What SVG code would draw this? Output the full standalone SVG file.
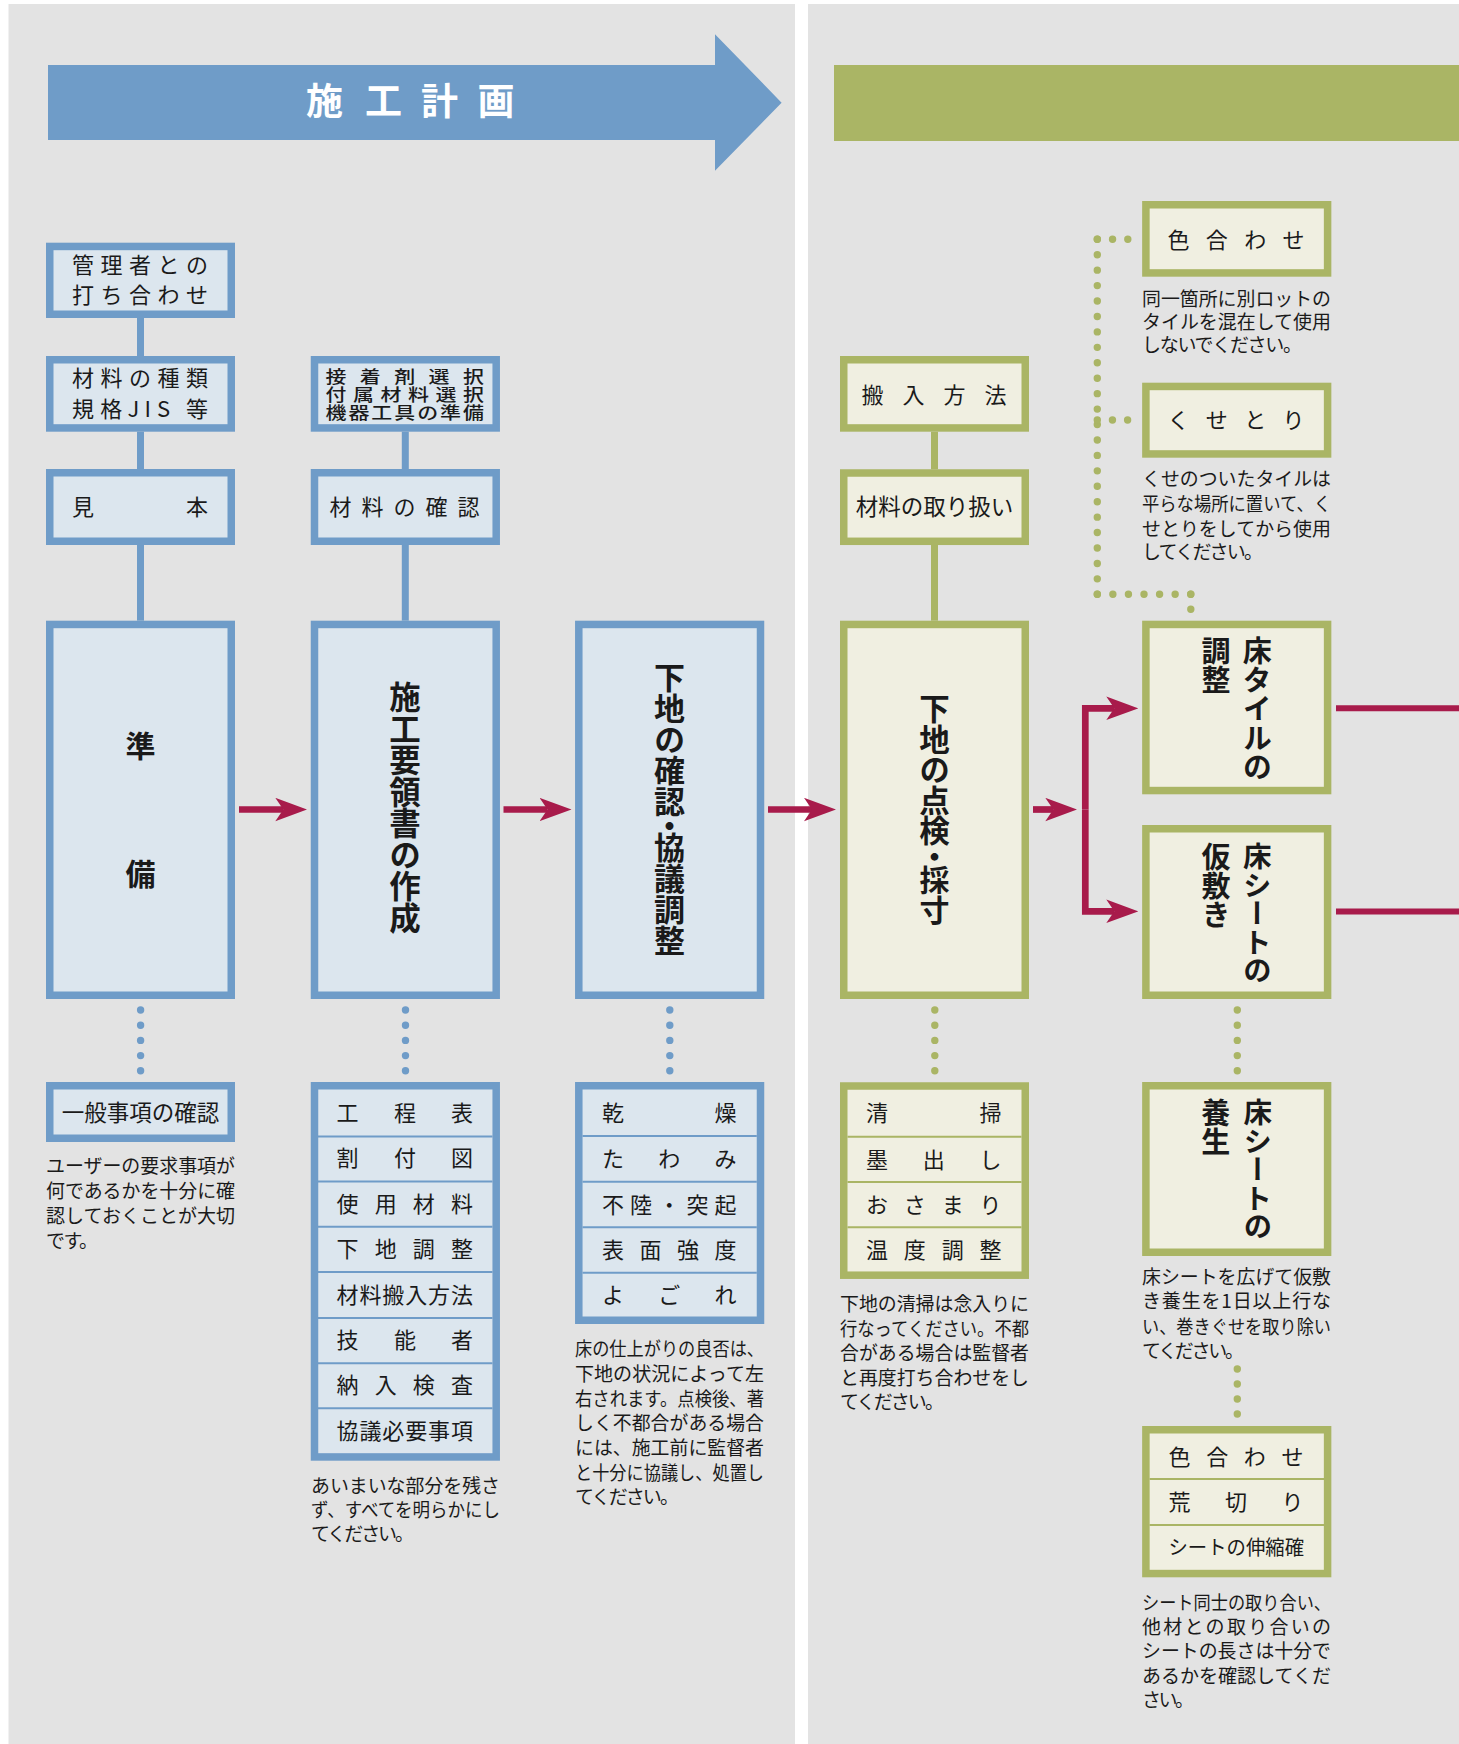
<svg xmlns="http://www.w3.org/2000/svg" width="1459" height="1744" viewBox="0 0 1459 1744">
<defs>
<style>
text{font-family:"Noto Sans CJK JP","Noto Sans CJK SC",sans-serif;fill:#1a1a1a}
.lb{font-size:22px}
.cap{font-size:19px}
.sm{font-size:16.5px;font-weight:500}
.big{font-weight:bold}
.vt{writing-mode:vertical-rl}
.bb{fill:#dce6ee;stroke:#6f9cc8;stroke-width:7.5}
.gb{fill:#f0efe1;stroke:#aab565;stroke-width:7.5}
.bsep{stroke:#6f9cc8;stroke-width:2}
.gsep{stroke:#aab565;stroke-width:2}
.bcon{stroke:#6f9cc8;stroke-width:7;fill:none}
.gcon{stroke:#aab565;stroke-width:7;fill:none}
.bdot{stroke:#6f9cc8;stroke-width:7.4;stroke-linecap:round;fill:none}
.gdot{stroke:#aab565;stroke-width:7.4;stroke-linecap:round;fill:none}
.arr{stroke:#a81b4b;stroke-width:6.7;fill:none}
</style>
<marker id="ah" viewBox="0 -12 32 24" refX="8" refY="0" markerWidth="32" markerHeight="24" markerUnits="userSpaceOnUse" orient="auto">
<path d="M0,-11.7 L32,0 L0,11.7 L8,0 Z" fill="#a81b4b"/>
</marker>
</defs>
<rect x="0" y="0" width="1459" height="1744" fill="#ffffff"/>
<rect x="8.5" y="4" width="786.5" height="1740" fill="#e3e3e3"/>
<rect x="808" y="4" width="651" height="1740" fill="#e3e3e3"/>

<g id="header-plan">
<polygon points="48,65 715,65 715,34.3 781.6,102.7 715,170.8 715,140 48,140" fill="#6f9cc8"/>
<text x="306 365 421 477.5" y="114.6" style="font-size:37px;font-weight:bold;fill:#ffffff">施工計画</text>
</g>
<g id="header-work">
<rect x="834" y="65" width="625" height="76" fill="#aab565"/>
</g>

<g id="connectors">
<line class="bcon" x1="140.5" y1="318" x2="140.5" y2="356"/>
<line class="bcon" x1="140.5" y1="431.7" x2="140.5" y2="469"/>
<line class="bcon" x1="140.5" y1="545" x2="140.5" y2="620.7"/>
<line class="bcon" x1="405.3" y1="431.7" x2="405.3" y2="469"/>
<line class="bcon" x1="405.3" y1="545" x2="405.3" y2="620.7"/>
<line class="gcon" x1="934.5" y1="431.7" x2="934.5" y2="469.3"/>
<line class="gcon" x1="934.5" y1="545" x2="934.5" y2="620.7"/>
<path class="bdot" d="M140.6,1010 V1071.2" stroke-dasharray="0 15.2"/>
<path class="bdot" d="M405.5,1010 V1071.2" stroke-dasharray="0 15.2"/>
<path class="bdot" d="M669.8,1010 V1071.2" stroke-dasharray="0 15.2"/>
<path class="gdot" d="M934.8,1010 V1071.2" stroke-dasharray="0 15.2"/>
<path class="gdot" d="M1237.3,1010 V1071.2" stroke-dasharray="0 15.2"/>
<path class="gdot" d="M1237.3,1369 V1414.4" stroke-dasharray="0 15"/>
<path class="gdot" d="M1127.8,239.3 H1096.9" stroke-dasharray="0 15.25"/>
<path class="gdot" d="M1097.3,239.3 V594.8" stroke-dasharray="0 15.435"/>
<path class="gdot" d="M1127.6,420 H1096.9" stroke-dasharray="0 15.15"/>
<path class="gdot" d="M1097.3,594.3 H1191.1" stroke-dasharray="0 15.57"/>
<path class="gdot" d="M1190.8,594.3 V609.7" stroke-dasharray="0 15"/>
<line class="arr" x1="239" y1="809.5" x2="283.3" y2="809.5" marker-end="url(#ah)"/>
<line class="arr" x1="503.5" y1="809.5" x2="547.5" y2="809.5" marker-end="url(#ah)"/>
<line class="arr" x1="768" y1="809.5" x2="812" y2="809.5" marker-end="url(#ah)"/>
<line class="arr" x1="1033" y1="809.5" x2="1053.3" y2="809.5" marker-end="url(#ah)"/>
<path class="arr" d="M1085.3,809.5 V708.3 H1114.3" stroke-linejoin="miter" marker-end="url(#ah)"/>
<path class="arr" d="M1085.3,809.5 V911.3 H1114.3" stroke-linejoin="miter" marker-end="url(#ah)"/>
<line class="arr" x1="1336" y1="708.3" x2="1459" y2="708.3" style="stroke-width:6"/>
<line class="arr" x1="1336" y1="911.5" x2="1459" y2="911.5" style="stroke-width:6"/>
</g>

<g id="n-kanri">
<rect class="bb" x="49.75" y="246.45" width="181.5" height="67.8"/>
<text class="lb" x="72 100.5 129 157.5 186" y="273.4">管理者との</text>
<text class="lb" x="72 100.5 129 157.5 186" y="303.1">打ち合わせ</text>
</g>
<g id="n-shurui">
<rect class="bb" x="49.75" y="359.75" width="181.5" height="68.2"/>
<text class="lb" x="72 100.5 129 157.5 186" y="386.4">材料の種類</text>
<text class="lb" x="72 100.3 127.5 144.5 157 186" y="417.4">規格JIS等</text>
</g>
<g id="n-mihon">
<rect class="bb" x="49.75" y="472.75" width="181.5" height="68.5"/>
<text class="lb" x="72 186" y="515.4">見本</text>
</g>
<g id="n-junbi">
<rect class="bb" x="49.75" y="624.45" width="181.5" height="370.8"/>
<text class="big" x="140.5" y="757.4" text-anchor="middle" style="font-size:30px">準</text>
<text class="big" x="140.5" y="885.4" text-anchor="middle" style="font-size:30px">備</text>
</g>
<g id="n-ippan">
<rect class="bb" x="49.75" y="1085.75" width="181.5" height="52.5"/>
<text x="140.5" y="1121.1" text-anchor="middle" style="font-size:22.5px">一般事項の確認</text>
</g>
<g id="c-ippan">
<text class="cap" x="46" y="1173.2" textLength="189" lengthAdjust="spacingAndGlyphs">ユーザーの要求事項が</text>
<text class="cap" x="46" y="1198.2" textLength="189" lengthAdjust="spacingAndGlyphs">何であるかを十分に確</text>
<text class="cap" x="46" y="1223.2" textLength="189" lengthAdjust="spacingAndGlyphs">認しておくことが大切</text>
<text class="cap" x="46" y="1248.2" textLength="52" lengthAdjust="spacing">です。</text>
</g>

<g id="n-secchaku">
<rect class="bb" x="314.5" y="359.75" width="181.7" height="68.2"/>
<g transform="matrix(1.27,0,0,1,-109.4,0)">
<text class="sm" x="342.4 369.5 396.6 423.6 450.7" y="383">接着剤選択</text>
<text class="sm" x="342.4 364.1 385.7 407.4 429 450.7" y="401.2">付属材料選択</text>
<text class="sm" x="342.4 360.5 378.5 396.6 414.6 432.7 450.7" y="419.3">機器工具の準備</text>
</g>
</g>
<g id="n-kakunin">
<rect class="bb" x="314.5" y="472.75" width="181.7" height="68.5"/>
<text class="lb" x="329.5 361.5 393.5 425.5 457.5" y="515.4">材料の確認</text>
</g>
<g id="n-sekou">
<rect class="bb" x="314.5" y="624.45" width="181.7" height="370.8"/>
<text class="big vt" x="405" y="681.5" style="font-size:31.5px">施工要領書の作成</text>
</g>
<g id="n-table2">
<rect class="bb" x="314.5" y="1085.75" width="181.7" height="371.2"/>
<line class="bsep" x1="318" y1="1136.4" x2="492.5" y2="1136.4"/>
<line class="bsep" x1="318" y1="1181.4" x2="492.5" y2="1181.4"/>
<line class="bsep" x1="318" y1="1226.8" x2="492.5" y2="1226.8"/>
<line class="bsep" x1="318" y1="1272" x2="492.5" y2="1272"/>
<line class="bsep" x1="318" y1="1317.9" x2="492.5" y2="1317.9"/>
<line class="bsep" x1="318" y1="1363.2" x2="492.5" y2="1363.2"/>
<line class="bsep" x1="318" y1="1408.2" x2="492.5" y2="1408.2"/>
<text class="lb" x="336.5 394 451" y="1121.1">工程表</text>
<text class="lb" x="336.5 394 451" y="1166.4">割付図</text>
<text class="lb" x="336.5 374.7 412.8 451" y="1212.2">使用材料</text>
<text class="lb" x="336.5 374.7 412.8 451" y="1257.1">下地調整</text>
<text class="lb" x="336.5 359.4 382.3 405.2 428.1 451" y="1302.7">材料搬入方法</text>
<text class="lb" x="336.5 394 451" y="1348.2">技能者</text>
<text class="lb" x="336.5 374.7 412.8 451" y="1393.2">納入検査</text>
<text class="lb" x="336.5 359.4 382.3 405.2 428.1 451" y="1438.7">協議必要事項</text>
</g>
<g id="c-table2">
<text class="cap" x="311" y="1492.9" textLength="189" lengthAdjust="spacingAndGlyphs">あいまいな部分を残さ</text>
<text class="cap" x="311" y="1516.7" textLength="189" lengthAdjust="spacingAndGlyphs">ず、すべてを明らかにし</text>
<text class="cap" x="311" y="1541.2" textLength="103" lengthAdjust="spacing">てください。</text>
</g>

<g id="n-shitaji">
<rect class="bb" x="578.8" y="624.45" width="181.7" height="370.8"/>
<text class="big vt" x="669.5" y="662" style="font-size:31px">下地の確認</text>
<text class="big vt" x="669.5" y="809.5" style="font-size:31px">・</text>
<text class="big vt" x="669.5" y="832" style="font-size:31px">協議調整</text>
</g>
<g id="n-table3">
<rect class="bb" x="578.8" y="1085.75" width="181.7" height="234.5"/>
<line class="bsep" x1="582.5" y1="1136" x2="756.8" y2="1136"/>
<line class="bsep" x1="582.5" y1="1181.7" x2="756.8" y2="1181.7"/>
<line class="bsep" x1="582.5" y1="1227.3" x2="756.8" y2="1227.3"/>
<line class="bsep" x1="582.5" y1="1272.7" x2="756.8" y2="1272.7"/>
<text class="lb" x="602 714.5" y="1121.1">乾燥</text>
<text class="lb" x="602 658.3 714.5" y="1167.3">たわみ</text>
<text class="lb" x="602 630.1 658.3 686.4 714.5" y="1212.9">不陸・突起</text>
<text class="lb" x="602 639.5 677 714.5" y="1258.4">表面強度</text>
<text class="lb" x="602 658.3 714.5" y="1303.1">よごれ</text>
</g>
<g id="c-table3">
<text class="cap" x="575" y="1355.5" textLength="189" lengthAdjust="spacingAndGlyphs">床の仕上がりの良否は、</text>
<text class="cap" x="575" y="1380.5" textLength="189" lengthAdjust="spacingAndGlyphs">下地の状況によって左</text>
<text class="cap" x="575" y="1405.5" textLength="189" lengthAdjust="spacingAndGlyphs">右されます。点検後、著</text>
<text class="cap" x="575" y="1429.9" textLength="189" lengthAdjust="spacingAndGlyphs">しく不都合がある場合</text>
<text class="cap" x="575" y="1454.5" textLength="189" lengthAdjust="spacingAndGlyphs">には、施工前に監督者</text>
<text class="cap" x="575" y="1479.9" textLength="189" lengthAdjust="spacingAndGlyphs">と十分に協議し、処置し</text>
<text class="cap" x="575" y="1503.9" textLength="104" lengthAdjust="spacing">てください。</text>
</g>

<g id="n-hannyu">
<rect class="gb" x="843.75" y="359.75" width="181.5" height="68.2"/>
<text class="lb" x="861.5 902.5 943.5 984.5" y="403.4">搬入方法</text>
</g>
<g id="n-toriatsukai">
<rect class="gb" x="843.75" y="473" width="181.5" height="68.3"/>
<text x="934.5" y="515.3" text-anchor="middle" style="font-size:22.5px">材料の取り扱い</text>
</g>
<g id="n-tenken">
<rect class="gb" x="843.75" y="624.45" width="181.5" height="370.8"/>
<text class="big vt" x="934.5" y="693.5" style="font-size:30.5px">下地の点検</text>
<text class="big vt" x="934.5" y="841.5" style="font-size:30px">・</text>
<text class="big vt" x="934.5" y="865" style="font-size:30px">採寸</text>
</g>
<g id="n-table4">
<rect class="gb" x="843.75" y="1086" width="181.5" height="189.2"/>
<line class="gsep" x1="847.5" y1="1136.7" x2="1021.5" y2="1136.7"/>
<line class="gsep" x1="847.5" y1="1182" x2="1021.5" y2="1182"/>
<line class="gsep" x1="847.5" y1="1227.3" x2="1021.5" y2="1227.3"/>
<text class="lb" x="866 979.5" y="1121.4">清掃</text>
<text class="lb" x="866 922.8 979.5" y="1167.7">墨出し</text>
<text class="lb" x="866 903.8 941.7 979.5" y="1213.1">おさまり</text>
<text class="lb" x="866 903.8 941.7 979.5" y="1257.9">温度調整</text>
</g>
<g id="c-table4">
<text class="cap" x="840" y="1310.5" textLength="189" lengthAdjust="spacingAndGlyphs">下地の清掃は念入りに</text>
<text class="cap" x="840" y="1335.5" textLength="189" lengthAdjust="spacingAndGlyphs">行なってください。不都</text>
<text class="cap" x="840" y="1359.9" textLength="189" lengthAdjust="spacingAndGlyphs">合がある場合は監督者</text>
<text class="cap" x="840" y="1384.9" textLength="189" lengthAdjust="spacingAndGlyphs">と再度打ち合わせをし</text>
<text class="cap" x="840" y="1408.9" textLength="104" lengthAdjust="spacing">てください。</text>
</g>

<g id="n-iroawase">
<rect class="gb" x="1145.9" y="204.75" width="181.7" height="68.2"/>
<text class="lb" x="1167.5 1205.8 1244.2 1282.5" y="247.7">色合わせ</text>
</g>
<g id="c-iroawase">
<text class="cap" x="1142" y="305.5" textLength="189" lengthAdjust="spacingAndGlyphs">同一箇所に別ロットの</text>
<text class="cap" x="1142" y="328.9" textLength="189" lengthAdjust="spacingAndGlyphs">タイルを混在して使用</text>
<text class="cap" x="1142" y="352.2" textLength="160" lengthAdjust="spacing">しないでください。</text>
</g>
<g id="n-kusetori">
<rect class="gb" x="1145.9" y="386.45" width="181.7" height="67.5"/>
<text class="lb" x="1167.5 1205.8 1244.2 1282.5" y="428.4">くせとり</text>
</g>
<g id="c-kusetori">
<text class="cap" x="1142" y="485.5" textLength="189" lengthAdjust="spacingAndGlyphs">くせのついたタイルは</text>
<text class="cap" x="1142" y="510.5" textLength="189" lengthAdjust="spacingAndGlyphs">平らな場所に置いて、く</text>
<text class="cap" x="1142" y="535.5" textLength="189" lengthAdjust="spacingAndGlyphs">せとりをしてから使用</text>
<text class="cap" x="1142" y="558.9" textLength="121" lengthAdjust="spacing">してください。</text>
</g>
<g id="n-tile">
<rect class="gb" x="1145.9" y="624.45" width="181.7" height="166.1"/>
<text class="big vt" x="1257.3" y="636.5" style="font-size:29px">床タイルの</text>
<text class="big vt" x="1216" y="636.5" style="font-size:29px">調整</text>
</g>
<g id="n-karijiki">
<rect class="gb" x="1145.9" y="828.75" width="181.7" height="166.5"/>
<text class="big vt" x="1257.3" y="842" style="font-size:28.5px">床シートの</text>
<text class="big vt" x="1216" y="842" style="font-size:29px">仮敷き</text>
</g>
<g id="n-yojo">
<rect class="gb" x="1145.9" y="1085.75" width="181.7" height="166.5"/>
<text class="big vt" x="1257.7" y="1098" style="font-size:28.5px">床シートの</text>
<text class="big vt" x="1215.7" y="1098" style="font-size:29px">養生</text>
</g>
<g id="c-yojo">
<text class="cap" x="1142" y="1283.8" textLength="189" lengthAdjust="spacingAndGlyphs">床シートを広げて仮敷</text>
<text class="cap" x="1142" y="1308.4" textLength="189" lengthAdjust="spacing">き養生を1日以上行な</text>
<text class="cap" x="1142" y="1333.6" textLength="189" lengthAdjust="spacingAndGlyphs">い、巻きぐせを取り除い</text>
<text class="cap" x="1142" y="1358.2" textLength="102" lengthAdjust="spacing">てください。</text>
</g>
<g id="n-table5">
<rect class="gb" x="1145.9" y="1429.75" width="181.7" height="143.8"/>
<line class="gsep" x1="1149.5" y1="1479" x2="1324" y2="1479"/>
<line class="gsep" x1="1149.5" y1="1525" x2="1324" y2="1525"/>
<text class="lb" x="1168.5 1206.2 1243.8 1281.5" y="1464.9">色合わせ</text>
<text class="lb" x="1168.5 1225 1281.5" y="1510.4">荒切り</text>
<text x="1168.5" y="1554.6" textLength="135.5" lengthAdjust="spacingAndGlyphs" style="font-size:20px">シートの伸縮確</text>
</g>
<g id="c-table5">
<text class="cap" x="1142" y="1609.7" textLength="189" lengthAdjust="spacingAndGlyphs">シート同士の取り合い、</text>
<text class="cap" x="1142" y="1634.2" textLength="189" lengthAdjust="spacing">他材との取り合いの</text>
<text class="cap" x="1142" y="1658.2" textLength="189" lengthAdjust="spacingAndGlyphs">シートの長さは十分で</text>
<text class="cap" x="1142" y="1682.7" textLength="189" lengthAdjust="spacingAndGlyphs">あるかを確認してくだ</text>
<text class="cap" x="1142" y="1706.9" textLength="52" lengthAdjust="spacing">さい。</text>
</g>
</svg>
